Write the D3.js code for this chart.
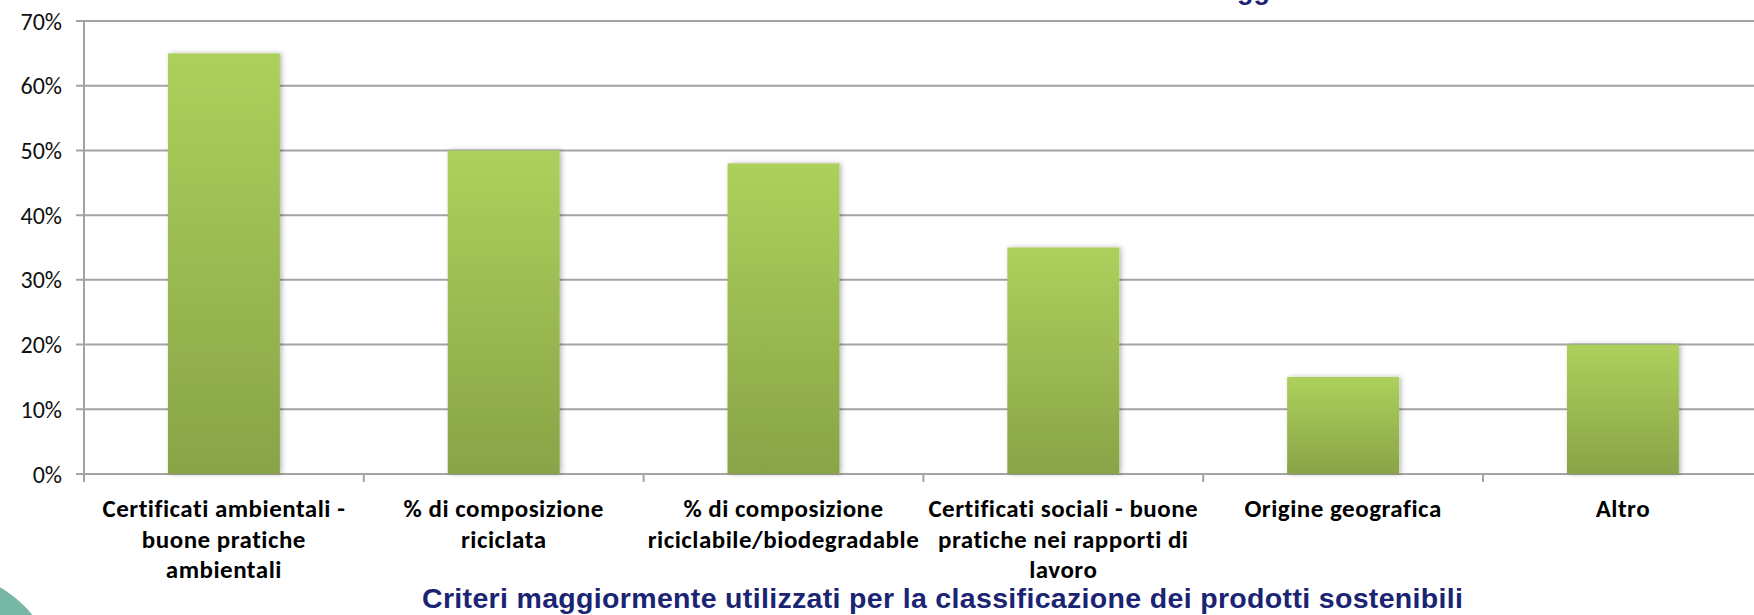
<!DOCTYPE html>
<html>
<head>
<meta charset="utf-8">
<script src="https://cdn.jsdelivr.net/npm/d3@7"></script>
<style>
  html, body { margin: 0; padding: 0; background: #fff; }
  svg { display: block; }
</style>
</head>
<body>
<script>
// data
var categories = ["cert_amb", "comp_ricic", "comp_biodeg", "cert_soc", "origine", "altro"];
var labelLines = [
  ["Certificati ambientali -", "buone pratiche", "ambientali"],
  ["% di composizione", "riciclata"],
  ["% di composizione", "riciclabile/biodegradable"],
  ["Certificati sociali - buone", "pratiche nei rapporti di", "lavoro"],
  ["Origine geografica"],
  ["Altro"]
];
var values = [0.65, 0.50, 0.48, 0.35, 0.15, 0.20];
var yTicks = [0, 0.1, 0.2, 0.3, 0.4, 0.5, 0.6, 0.7];
var xTitle = "Criteri maggiormente utilizzati per la classificazione dei prodotti sostenibili";

var width = 1754,
    height = 615;

var svg = d3.select("body").append("svg")
    .attr("width", width)
    .attr("height", height);

var defs = svg.append("defs");
var grad = defs.append("linearGradient")
    .attr("id", "barGrad")
    .attr("x1", 0).attr("y1", 0).attr("x2", 0).attr("y2", 1);
grad.append("stop").attr("offset", "0%").attr("stop-color", "#add05c");
grad.append("stop").attr("offset", "100%").attr("stop-color", "#88a447");

var shadow = defs.append("filter").attr("id", "shadow")
    .attr("x", "-20%").attr("y", "-5%").attr("width", "140%").attr("height", "110%");
shadow.append("feDropShadow")
    .attr("dx", 2).attr("dy", 0).attr("stdDeviation", 2.5)
    .attr("flood-color", "#000").attr("flood-opacity", 0.28);

// decorative circle bottom-left
svg.append("circle")
    .attr("cx", -60).attr("cy", 690).attr("r", 119)
    .attr("fill", "#76b8a5");

// scales
var step = 279.8;
var x = d3.scaleBand()
    .domain(categories)
    .range([84, 84 + step * categories.length])
    .paddingInner(0.6)
    .paddingOuter(0.3);

var y = d3.scaleLinear()
    .domain([0, 0.7])
    .range([474, 21]);

// gridlines
svg.append("g")
  .selectAll("line")
  .data(yTicks)
  .enter().append("line")
    .attr("x1", 76)
    .attr("x2", width)
    .attr("y1", function(d) { return y(d); })
    .attr("y2", function(d) { return y(d); })
    .attr("stroke", "#a3a3a3")
    .attr("stroke-width", 2);

// y axis line
svg.append("line")
    .attr("x1", 84).attr("x2", 84)
    .attr("y1", y(0.7)).attr("y2", y(0) + 8)
    .attr("stroke", "#a3a3a3")
    .attr("stroke-width", 2);

// y tick labels
svg.append("g")
  .selectAll("text")
  .data(yTicks)
  .enter().append("text")
    .attr("x", 62)
    .attr("y", function(d) { return y(d); })
    .attr("dy", "0.36em")
    .attr("text-anchor", "end")
    .style("font-family", "Carlito, Lato, sans-serif")
    .style("font-size", "24px")
    .style("fill", "#111")
    .text(d3.format(".0%"));

// x category tick marks
var bounds = d3.range(categories.length + 1).map(function(i) { return 84 + i * step; });
svg.append("g")
  .selectAll("line")
  .data(bounds)
  .enter().append("line")
    .attr("x1", function(d) { return d; })
    .attr("x2", function(d) { return d; })
    .attr("y1", y(0))
    .attr("y2", y(0) + 8)
    .attr("stroke", "#a3a3a3")
    .attr("stroke-width", 2);

// bars
svg.append("g")
  .selectAll("rect")
  .data(values)
  .enter().append("rect")
    .attr("x", function(d, i) { return x(categories[i]); })
    .attr("y", function(d) { return y(d); })
    .attr("width", x.bandwidth())
    .attr("height", function(d) { return y(0) - y(d); })
    .attr("fill", "url(#barGrad)")
    .attr("filter", "url(#shadow)");

// category labels
var lab = svg.append("g")
  .selectAll("text")
  .data(labelLines)
  .enter().append("text")
    .attr("x", function(d, i) { return x(categories[i]) + x.bandwidth() / 2; })
    .attr("y", 517)
    .attr("text-anchor", "middle")
    .style("font-family", "Carlito, Lato, sans-serif")
    .style("font-weight", "bold")
    .style("font-size", "25px")
    .style("letter-spacing", "0.5px")
    .style("fill", "#000");

lab.selectAll("tspan")
  .data(function(d) { return d; })
  .enter().append("tspan")
    .attr("x", function() { return d3.select(this.parentNode).attr("x"); })
    .attr("dy", function(d, i) { return i === 0 ? 0 : 30.5; })
    .text(function(d) { return d; });

// axis title
svg.append("text")
    .attr("x", 422)
    .attr("y", 608)
    .attr("textLength", 1041)
    .attr("lengthAdjust", "spacing")
    .style("font-family", "Arial, 'Liberation Sans', sans-serif")
    .style("font-weight", "bold")
    .style("font-size", "28.5px")
    .style("fill", "#1a2472")
    .text(xTitle);

// chart title, mostly cut off by the top edge
svg.append("text")
    .attr("x", 1237)
    .attr("y", -1)
    .style("font-family", "Arial, 'Liberation Sans', sans-serif")
    .style("font-weight", "bold")
    .style("font-size", "27px")
    .style("fill", "#1a2472")
    .text("gg");
</script>
</body>
</html>
